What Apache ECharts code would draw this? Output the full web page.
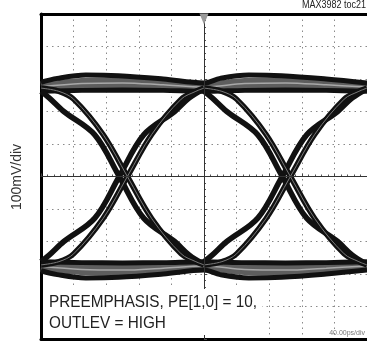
<!DOCTYPE html>
<html><head><meta charset="utf-8">
<script src="https://cdn.jsdelivr.net/npm/echarts@6/dist/echarts.min.js"></script>
<style>html,body{margin:0;background:#fff}#c{width:367px;height:341px}</style>
</head><body><div id="c"></div>
<script>
// time in ps (40ps/div, centre = 0), amplitude in mV (100mV/div)
const hiPeak=[[-200,290],[-180,302],[-145,312],[-105,310],[-50,300],[0,288],[20,302],[55,312],[95,310],[150,300],[200,288]];
const hiMid=[[-200,276],[-150,286],[-100,288],[-50,282],[0,275],[50,286],[100,288],[150,282],[200,275]];
const hiSteady=[[-200,262],[-150,265],[-100,266],[-50,265],[0,262],[50,265],[100,266],[150,265],[200,262]];
const loPeak=[[-200,-290],[-180,-302],[-145,-312],[-105,-310],[-50,-300],[0,-288],[20,-302],[55,-312],[95,-310],[150,-300],[200,-288]];
const loMid=[[-200,-276],[-150,-286],[-100,-288],[-50,-282],[0,-275],[50,-286],[100,-288],[150,-282],[200,-275]];
const loSteady=[[-200,-262],[-150,-265],[-100,-266],[-50,-265],[0,-262],[50,-265],[100,-266],[150,-265],[200,-262]];

const fallA1=[[-200,272],[-178,262],[-160,238],[-124,130],[-94,0],[-64,-130],[-28,-238],[-10,-262],[0,-272]];
const fallB1=[[-200,262],[-190,242],[-172,200],[-134,128],[-104,0],[-74,-128],[-36,-200],[-18,-242],[0,-270]];
const riseA1=[[-200,-272],[-178,-262],[-160,-238],[-124,-130],[-94,0],[-64,130],[-28,238],[-10,262],[0,272]];
const riseB1=[[-200,-262],[-190,-242],[-172,-200],[-134,-128],[-104,0],[-74,128],[-36,200],[-18,242],[0,270]];
const fallA2=[[0,272],[22,262],[40,238],[76,130],[106,0],[136,-130],[172,-238],[190,-262],[200,-272]];
const fallB2=[[0,262],[10,242],[28,200],[66,128],[96,0],[126,-128],[164,-200],[182,-242],[200,-270]];
const riseA2=[[0,-272],[22,-262],[40,-238],[76,-130],[106,0],[136,130],[172,238],[190,262],[200,272]];
const riseB2=[[0,-262],[10,-242],[28,-200],[66,-128],[96,0],[126,128],[164,200],[182,242],[200,270]];

const font="'Liberation Sans Narrow','Liberation Sans',sans-serif";
const trace=(data,color,width)=>({type:"line",data,smooth:0.35,symbol:"none",silent:true,
  lineStyle:{color,width,cap:"butt"}});

const series=[
  {type:"line",data:[],markLine:{silent:true,symbol:["none","none"],label:{show:false},
    lineStyle:{color:"#333",width:1,type:"solid"},data:[{xAxis:0},{yAxis:0}]},
   markPoint:{silent:true,symbol:"triangle",symbolRotate:180,symbolSize:[9,11],symbolOffset:[0,5],
    itemStyle:{color:"#9a9a9a"},label:{show:false},data:[{coord:[0,500]}]}},
  trace(hiMid,"#5e5e5e",11), trace(loMid,"#5e5e5e",11),
  trace(hiPeak,"#111",5), trace(hiSteady,"#111",5),
  trace(loPeak,"#111",5), trace(loSteady,"#111",5),
  trace(hiMid,"#a8a8a8",1.5), trace(loMid,"#a8a8a8",1.5),
];
[fallA1,fallB1,riseA1,riseB1,fallA2,fallB2,riseA2,riseB2].forEach(d=>{
  series.push(trace(d,"#111",5.5));
});
[fallA1,riseA1,fallA2,riseA2].forEach(d=>{
  series.push(trace(d,"#7a7a7a",1));
});

const grid={left:41,top:14,right:0,bottom:2};
const frame=w=>({show:true,onZero:false,lineStyle:{color:"#000",width:w}});
const off={axisTick:{show:false},axisLabel:{show:false},splitLine:{show:false}};
const centre={show:true,onZero:true,lineStyle:{color:"#444",width:1}};
const dots={show:true,lineStyle:{color:"#8a8a8a",width:1,type:[1.5,4]}};

echarts.init(document.getElementById("c")).setOption({
  animation:false,
  grid,
  xAxis:[
    {type:"value",min:-200,max:200,interval:40,axisLine:centre,
     axisTick:{show:true,inside:true,length:3,lineStyle:{color:"#444"}},
     minorTick:{show:true,splitNumber:5,length:2,lineStyle:{color:"#555"}},
     axisLabel:{show:false},splitLine:dots},
    {type:"value",position:"bottom",axisLine:frame(3),...off},
    {type:"value",position:"top",axisLine:frame(3),...off}
  ],
  yAxis:[
    {type:"value",min:-500,max:500,interval:100,axisLine:centre,
     axisTick:{show:true,inside:true,length:3,lineStyle:{color:"#444"}},
     minorTick:{show:true,splitNumber:5,length:2,lineStyle:{color:"#555"}},
     axisLabel:{show:false},splitLine:dots},
    {type:"value",position:"left",axisLine:frame(3),...off}
  ],
  graphic:[
    {type:"text",right:1,top:0,scaleX:0.9,style:{text:"MAX3982 toc21",font:"10px "+font,fill:"#222"}},
    {type:"text",x:17,y:177,rotation:Math.PI/2,
     style:{text:"100mV/div",font:"14px "+font,fill:"#333",align:"center",verticalAlign:"middle"}},
    {type:"rect",left:44,top:289,z:100,shape:{width:218,height:46},style:{fill:"#fff"}},
    {type:"text",left:49,top:292,z:101,scaleX:0.9,
     style:{text:"PREEMPHASIS, PE[1,0] = 10,\nOUTLEV = HIGH",font:"17px "+font,lineHeight:21,fill:"#222"}},
    {type:"text",right:2,bottom:4,z:101,style:{text:"40.00ps/div",font:"7px "+font,fill:"#777"}}
  ],
  series
});
</script></body></html>
